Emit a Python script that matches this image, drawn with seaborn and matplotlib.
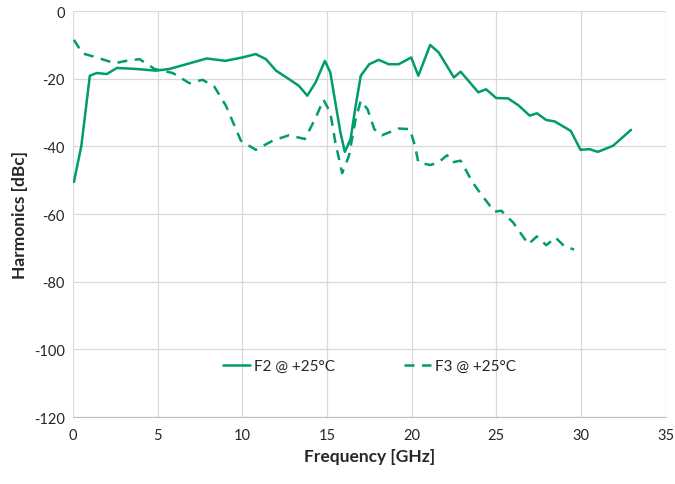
import matplotlib
matplotlib.use("Agg")
import matplotlib.pyplot as plt
import seaborn as sns
import pandas as pd

# F2 harmonic
f2_freq = [0.06, 0.5, 1.0, 1.4, 2.0, 2.6, 3.75, 4.9, 5.7, 6.7, 7.9, 9.0, 10.0, 10.8,
           11.4, 12.0, 12.76, 13.35, 13.84, 14.33, 14.88, 15.2, 15.5, 15.8, 16.06,
           16.4, 16.7, 17.0, 17.5, 18.06, 18.65, 19.24, 19.98, 20.4, 21.1, 21.6,
           22.5, 22.9, 23.94, 24.4, 25.0, 25.7, 26.3, 26.98, 27.4, 27.96, 28.45,
           29.4, 29.98, 30.5, 31.0, 31.9, 32.96]
f2_dbc = [-50.5, -39.8, -19.1, -18.3, -18.6, -16.8, -17.1, -17.6, -17.1, -15.7, -14.0,
          -14.7, -13.7, -12.7, -14.2, -17.6, -20.1, -22.1, -25.0, -21.1, -14.7, -18.1,
          -27.0, -35.9, -41.6, -37.8, -28.0, -19.1, -15.7, -14.4, -15.7, -15.7, -13.7,
          -19.1, -10.0, -12.2, -19.6, -17.9, -24.0, -23.1, -25.7, -25.8, -27.8, -30.9,
          -30.2, -32.2, -32.6, -35.4, -41.0, -40.8, -41.6, -39.8, -35.1]

# F3 harmonic
f3_freq = [0.06, 0.57, 1.4, 2.47, 3.15, 3.94, 4.82, 5.9, 6.88, 7.66, 8.35, 9.04, 9.92,
           10.8, 11.8, 12.76, 13.7, 14.3, 14.8, 15.2, 15.5, 15.9, 16.3, 16.7, 17.0,
           17.4, 17.8, 18.25, 19.24, 19.9, 20.2, 20.4, 21.1, 21.6, 22.1, 22.4, 22.9,
           23.6, 24.1, 24.9, 25.3, 26.0, 26.9, 27.4, 27.96, 28.5, 29.0, 29.6]
f3_dbc = [-8.5, -12.5, -13.7, -15.4, -14.7, -14.2, -17.1, -18.3, -21.3, -20.3, -22.3,
          -28.0, -38.3, -41.0, -38.3, -36.7, -37.8, -31.9, -26.2, -30.0, -38.8, -47.9,
          -42.8, -31.9, -26.5, -29.0, -34.9, -36.7, -34.7, -34.9, -39.8, -44.7, -45.5,
          -44.7, -42.6, -44.7, -44.2, -50.6, -54.1, -59.3, -59.0, -62.5, -68.9, -66.6,
          -69.2, -66.9, -69.4, -70.5]

labels = ["F2 @ +25°C", "F3 @ +25°C"]
green = "#009B6E"

df = pd.concat([
    pd.DataFrame({"freq": f2_freq, "dbc": f2_dbc, "series": labels[0]}),
    pd.DataFrame({"freq": f3_freq, "dbc": f3_dbc, "series": labels[1]}),
])

sns.set_style("white")
plt.rcParams["font.family"] = ["Lato", "DejaVu Sans"]
plt.rcParams["axes.unicode_minus"] = False

fig = plt.figure(figsize=(6.75, 4.85), dpi=100)
ax = fig.add_axes([0.108, 0.138, 0.878, 0.837])

sns.lineplot(data=df, x="freq", y="dbc", hue="series", style="series",
             palette=[green, green], dashes=[(None, None), (4, 3)],
             linewidth=1.8, sort=False, ax=ax)

ax.set_xlim(0, 35)
ax.set_ylim(-120, 0)
ax.set_xticks(range(0, 36, 5))
ax.set_yticks(range(-120, 1, 20))
ax.grid(True, color="#d9d9d9", linewidth=0.9)
for s in ["left", "top", "right"]:
    ax.spines[s].set_visible(False)
ax.spines["bottom"].set_color("#bfbfbf")
ax.tick_params(axis="x", length=5, color="#bfbfbf", labelsize=10.5, pad=3)
ax.tick_params(axis="y", length=0, labelsize=10.5, pad=6)

ax.set_xlabel("Frequency [GHz]", fontsize=12.5, fontweight="bold", labelpad=4)
ax.set_ylabel("Harmonics [dBc]", fontsize=12.5, fontweight="bold", labelpad=4)

leg = ax.legend(loc="center", bbox_to_anchor=(0.5, 0.125), ncol=2, frameon=False,
                fontsize=11, handlelength=1.8, handletextpad=0.25, columnspacing=4.5)
leg.set_title(None)

fig.savefig("out.png", dpi=100)
